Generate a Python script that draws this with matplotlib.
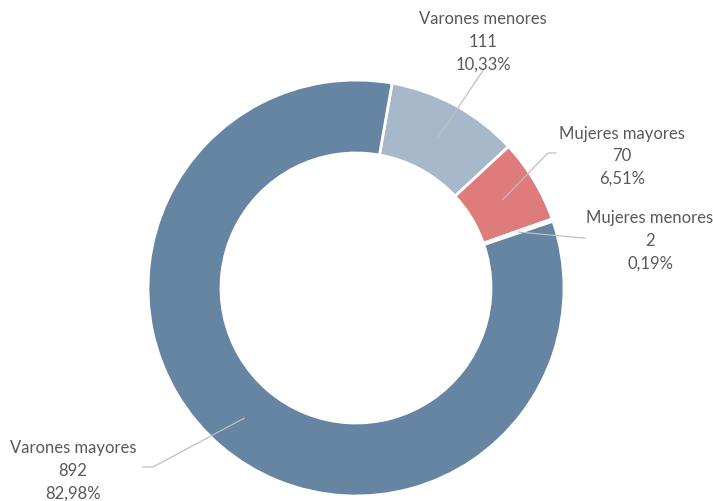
import numpy as np
from matplotlib import pyplot as plt

plt.rcParams['font.family'] = ['Lato', 'DejaVu Sans']

categorias = ["Varones menores", "Mujeres mayores", "Mujeres menores", "Varones mayores"]
valores = [111, 70, 2, 892]
porcentajes = ["10,33%", "6,51%", "0,19%", "82,98%"]
colores = ["#A7B8CB", "#DE7C7B", "#C9625F", "#6685A3"]

fig = plt.figure(figsize=(7.13, 5.02), dpi=100)
ax = fig.add_axes([0, 0, 1, 1])

centro = (356, 213)
radio = 208
ancho = 73
inicio = 80

wedges, _ = ax.pie(valores, colors=colores, startangle=inicio, counterclock=False,
                   center=centro, radius=radio, frame=True,
                   wedgeprops={"width": ancho, "edgecolor": "white", "linewidth": 2})
ax.set_xlim(0, 713)
ax.set_ylim(0, 502)
ax.set_aspect("equal")
ax.axis("off")

# text position and leader elbow for each label
textos = [(483, 460), (622, 346), (650, 261), (73, 31)]
codos = [None, (548, 348), (583, 263), (153, 34)]
finales = [(484, 432), (556, 348), (585, 263), (143, 34)]

for w, cat, v, p, t, c, f in zip(wedges, categorias, valores, porcentajes, textos, codos, finales):
    ang = np.deg2rad((w.theta1 + w.theta2) / 2)
    r = radio - ancho / 2
    x0 = centro[0] + r * np.cos(ang)
    y0 = centro[1] + r * np.sin(ang)
    xs = [x0] + ([c[0]] if c else []) + [f[0]]
    ys = [y0] + ([c[1]] if c else []) + [f[1]]
    ax.plot(xs, ys, color="#BFBFBF", linewidth=0.9)
    ax.text(t[0], t[1], f"{cat}\n{v}\n{p}", ha="center", va="center",
            fontsize=12, color="#595959", linespacing=1.5)

fig.savefig("out.png", dpi=100, facecolor="white")
